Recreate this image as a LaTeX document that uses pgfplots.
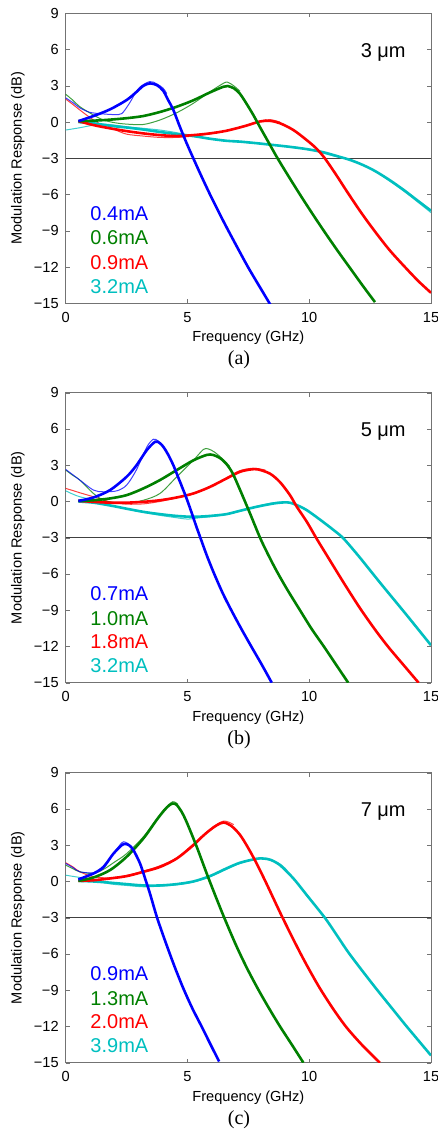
\documentclass[border=0pt]{standalone}
\usepackage{fontspec}
\setmainfont{Liberation Sans}
\newfontfamily\capfont{Liberation Serif}
\usepackage{pgfplots}
\pgfplotsset{compat=1.18}

\definecolor{cb}{rgb}{0,0,1}
\definecolor{cg}{rgb}{0,0.5,0}
\definecolor{cr}{rgb}{1,0,0}
\definecolor{cc}{rgb}{0,0.75,0.75}

\tikzset{lab/.style={anchor=west, inner sep=0, font=\fontsize{10}{12}\selectfont}}

\pgfplotsset{
  panel/.style={
    scale only axis, width=182.65pt, height=145pt, anchor=south west,
    xmin=0, xmax=15, ymin=-15, ymax=9,
    xtick={0,5,10,15}, xticklabels={0,5,10,15},
    ytick={-15,-12,-9,-6,-3,0,3,6,9},
    yticklabels={−15,−12,−9,−6,−3,0,3,6,9},
    tick align=inside, major tick length=2pt,
    axis line style={black!55}, tick style={black!55},
    tick label style={font=\fontsize{7.3}{8}\selectfont},
    label style={font=\fontsize{7.3}{8}\selectfont},
    xlabel={Frequency (GHz)}, ylabel={Modulation Response (dB)},
    xlabel style={at={(axis description cs:0.5,-0.12)}, anchor=center},
    ylabel style={at={(axis description cs:-0.131,0.5)}, anchor=center},
    xticklabel style={yshift=-1pt},
    clip=true,
  },
  fit/.style={line width=1.3pt, smooth},
  meas/.style={line width=0.5pt, smooth, opacity=0.75},
  cut/.style={black!75, line width=0.6pt},
}

\begin{document}
\begin{tikzpicture}
\useasboundingbox (0,0) rectangle (219pt,-565pt);

% ---------------- (a) 3 um
\begin{axis}[panel, at={(32.85pt,-151.65pt)}]
\addplot[cut] coordinates {(0,-3)(15,-3)};
\addplot[meas, cc] coordinates {(0,-0.66)(0.58,-0.47)(1.14,-0.25)(1.55,-0.17)(2.0,-0.25)(2.5,-0.39)(3.19,-0.52)(3.87,-0.66)(4.56,-0.88)(5.24,-1.16)(5.92,-1.4)(6.6,-1.57)(7.5,-1.71)(8.5,-1.88)(9.5,-2.1)(10.2,-2.35)(10.8,-2.7)(11.3,-2.95)(11.7,-3.1)(12.6,-3.95)(13.87,-5.7)(15,-7.5)};
\addplot[meas, cr] coordinates {(0,1.9)(0.3,1.45)(0.58,1.0)(1.14,0.17)(1.6,-0.35)(2.0,-0.62)(2.5,-1.0)(3.19,-1.16)(3.87,-1.27)(4.56,-1.27)(5.24,-1.16)(5.92,-0.98)(6.6,-0.72)(7.36,-0.3)(8.0,0.1)(8.4,0.2)(8.8,0.0)};
\addplot[meas, cg] coordinates {(0,2.3)(0.3,1.8)(0.58,1.27)(1.14,0.58)(1.55,0.17)(2.0,-0.05)(2.5,-0.17)(3.19,-0.2)(3.87,0.17)(4.56,0.77)(5.24,1.55)(5.92,2.5)(6.47,3.2)(6.65,3.3)(6.9,3.0)(7.16,2.55)};
\addplot[meas, cb] coordinates {(0,2.0)(0.3,1.6)(0.6,1.15)(1.0,0.8)(1.5,0.68)(2.0,0.62)(2.3,0.7)(2.6,1.5)(3.0,2.8)(3.45,3.35)(3.75,3.15)(4.0,2.8)(4.15,2.35)};
\addplot[fit, cc] coordinates {(0.52,0.0)(1.2,-0.12)(1.8,-0.3)(2.5,-0.45)(3.19,-0.62)(3.87,-0.82)(4.56,-1.0)(5.24,-1.16)(5.92,-1.38)(6.6,-1.55)(7.16,-1.62)(7.84,-1.75)(8.53,-1.9)(9.2,-2.05)(9.9,-2.24)(10.58,-2.5)(11.2,-2.85)(11.7,-3.15)(12.2,-3.55)(12.7,-4.05)(13.3,-4.8)(13.9,-5.65)(14.45,-6.5)(15,-7.34)};
\addplot[fit, cr] coordinates {(0.52,0.08)(1.14,-0.25)(1.82,-0.52)(2.5,-0.75)(3.19,-0.94)(3.87,-1.08)(4.56,-1.16)(5.24,-1.08)(5.92,-0.94)(6.6,-0.72)(7.36,-0.33)(7.98,0.05)(8.39,0.1)(8.8,-0.1)(9.35,-0.66)(9.9,-1.5)(10.3,-2.2)(10.64,-3.0)(11.1,-4.35)(11.55,-5.75)(12.1,-7.4)(12.64,-8.9)(13.3,-10.6)(14.0,-12.15)(14.5,-13.2)(15,-14.13)};
\addplot[fit, cg] coordinates {(0.52,0.08)(1.2,0.12)(1.82,0.2)(2.5,0.32)(3.19,0.5)(3.9,0.85)(4.56,1.27)(5.24,1.8)(5.92,2.45)(6.47,2.92)(6.65,2.98)(6.9,2.8)(7.15,2.35)(7.4,1.6)(7.7,0.6)(8.0,-0.5)(8.35,-1.75)(8.7,-3.0)(9.2,-4.65)(9.7,-6.25)(10.2,-7.8)(10.7,-9.3)(11.2,-10.75)(11.7,-12.15)(12.2,-13.55)(12.7,-14.9)};
\addplot[fit, cb] coordinates {(0.52,0.08)(1.14,0.5)(1.82,1.05)(2.5,1.82)(2.91,2.5)(3.19,3.0)(3.46,3.2)(3.75,3.05)(4.0,2.6)(4.2,1.85)(4.42,1.0)(4.69,-0.4)(4.97,-1.77)(5.24,-3.0)(5.6,-4.6)(6.0,-6.3)(6.5,-8.3)(7.0,-10.2)(7.5,-12.05)(8.0,-13.75)(8.4,-15.1)};
\node[lab] at (axis cs:12.1,5.8) {3 μm};
\node[lab, cb] at (axis cs:1.0,-7.56) {0.4mA};
\node[lab, cg] at (axis cs:1.0,-9.6) {0.6mA};
\node[lab, cr] at (axis cs:1.0,-11.6) {0.9mA};
\node[lab, cc] at (axis cs:1.0,-13.6) {3.2mA};
\end{axis}
\node[font=\capfont\fontsize{10}{12}\selectfont] at (119.5pt,-180pt) {(a)};

% ---------------- (b) 5 um
\begin{axis}[panel, at={(32.85pt,-341.35pt)}]
\addplot[cut] coordinates {(0,-3)(15,-3)};
\addplot[meas, cc] coordinates {(0,0.88)(0.3,0.6)(0.58,0.39)(1.14,0.1)(1.55,-0.22)(2.5,-0.6)(3.19,-0.9)(3.87,-1.15)(4.56,-1.35)(5.0,-1.46)(5.5,-1.35)(6.0,-1.25)(6.6,-1.08)(7.16,-0.8)(7.84,-0.4)(8.53,-0.1)(8.94,-0.05)(9.3,-0.12)};
\addplot[meas, cr] coordinates {(0,1.08)(0.3,0.9)(0.58,0.72)(1.14,0.39)(1.82,-0.03)(2.5,-0.22)(3.19,-0.2)(3.87,0.0)(4.56,0.3)(5.24,0.62)(5.92,1.2)(6.6,1.95)(7.15,2.55)(7.7,2.75)(8.2,2.6)};
\addplot[meas, cg] coordinates {(0,2.6)(0.3,2.15)(0.58,1.77)(1.14,0.66)(1.55,0.1)(2.0,-0.1)(2.5,-0.17)(3.19,0.1)(3.87,0.66)(4.56,2.04)(5.24,3.4)(5.65,4.3)(5.85,4.35)(6.1,4.1)(6.4,3.6)(6.74,2.9)};
\addplot[meas, cb] coordinates {(0,2.65)(0.3,2.2)(0.58,1.77)(1.14,0.94)(1.55,0.8)(2.1,0.88)(2.5,1.35)(2.9,2.6)(3.33,4.5)(3.6,5.15)(3.8,5.0)(4.01,4.55)};
\addplot[fit, cc] coordinates {(0.52,0.0)(1.14,-0.1)(1.82,-0.33)(2.5,-0.6)(3.19,-0.86)(3.87,-1.05)(4.56,-1.2)(5.24,-1.27)(5.92,-1.2)(6.6,-1.05)(7.16,-0.77)(7.84,-0.44)(8.53,-0.17)(8.94,-0.08)(9.2,-0.1)(9.49,-0.3)(9.9,-0.72)(10.44,-1.5)(10.99,-2.35)(11.4,-3.05)(12.0,-4.45)(12.5,-5.7)(13.0,-6.95)(14.0,-9.4)(15.0,-11.9)};
\addplot[fit, cr] coordinates {(0.52,0.05)(1.14,-0.03)(1.82,-0.1)(2.5,-0.1)(3.19,-0.03)(3.87,0.1)(4.56,0.33)(5.24,0.66)(5.92,1.2)(6.6,1.9)(7.15,2.45)(7.6,2.65)(7.9,2.65)(8.39,2.3)(8.8,1.6)(9.21,0.52)(9.49,-0.44)(9.9,-1.68)(10.28,-3.0)(10.72,-4.45)(11.1,-5.7)(11.5,-7.0)(12.09,-8.85)(12.7,-10.6)(13.25,-12.05)(13.9,-13.6)(14.49,-15)};
\addplot[fit, cg] coordinates {(0.52,0.05)(1.14,0.1)(1.82,0.25)(2.5,0.52)(3.19,1.08)(3.87,1.77)(4.56,2.6)(5.24,3.4)(5.79,3.85)(6.05,3.85)(6.33,3.6)(6.6,3.1)(6.85,2.35)(7.15,1.0)(7.57,-1.0)(7.98,-3.0)(8.3,-4.35)(8.66,-5.75)(9.1,-7.3)(9.62,-9.0)(10.1,-10.55)(10.6,-12.0)(11.1,-13.5)(11.6,-15)};
\addplot[fit, cb] coordinates {(0.52,0.05)(1.14,0.33)(1.82,0.94)(2.5,2.04)(2.91,3.0)(3.33,4.25)(3.67,4.94)(3.85,4.85)(4.01,4.52)(4.2,3.9)(4.42,3.0)(4.62,2.0)(4.83,0.94)(5.0,0.05)(5.2,-1.1)(5.36,-2.05)(5.53,-3.0)(5.8,-4.5)(6.1,-6.0)(6.45,-7.6)(6.8,-9.0)(7.2,-10.5)(7.62,-12.0)(8.05,-13.5)(8.46,-15)};
\node[lab] at (axis cs:12.1,5.8) {5 μm};
\node[lab, cb] at (axis cs:1.0,-7.6) {0.7mA};
\node[lab, cg] at (axis cs:1.0,-9.7) {1.0mA};
\node[lab, cr] at (axis cs:1.0,-11.6) {1.8mA};
\node[lab, cc] at (axis cs:1.0,-13.6) {3.2mA};
\end{axis}
\node[font=\capfont\fontsize{10}{12}\selectfont] at (119.5pt,-370pt) {(b)};

% ---------------- (c) 7 um
\begin{axis}[panel, at={(32.85pt,-531.35pt)}]
\addplot[cut] coordinates {(0,-3)(15,-3)};
\addplot[meas, cc] coordinates {(0,0.52)(0.3,0.42)(0.58,0.33)(1.14,0.1)(1.82,-0.2)(2.5,-0.33)(3.19,-0.44)(3.87,-0.39)(4.56,-0.28)(5.24,-0.05)(5.92,0.4)(6.6,1.0)(7.16,1.5)(7.84,1.85)(8.3,1.85)(8.8,1.45)(9.1,0.9)};
\addplot[meas, cr] coordinates {(0,1.55)(0.3,1.2)(0.58,0.8)(1.14,0.39)(1.82,0.3)(2.5,0.5)(3.19,0.85)(3.87,1.3)(4.56,1.95)(5.24,3.1)(5.92,4.3)(6.48,5.0)(6.9,4.7)};
\addplot[meas, cg] coordinates {(0,1.35)(0.3,1.05)(0.58,0.8)(1.14,0.66)(1.55,1.0)(2.0,1.6)(2.5,2.3)(3.19,3.7)(3.73,5.15)(4.1,6.1)(4.4,6.6)(4.6,6.4)};
\addplot[meas, cb] coordinates {(0,1.49)(0.3,1.15)(0.58,0.8)(1.14,0.72)(1.55,1.08)(1.96,2.3)(2.3,3.2)(2.45,3.25)(2.65,3.0)(2.8,2.6)};
\addplot[fit, cc] coordinates {(0.52,0.05)(1.14,0.0)(1.82,-0.1)(2.5,-0.22)(3.19,-0.33)(3.87,-0.33)(4.56,-0.22)(5.24,0.0)(5.92,0.44)(6.6,1.08)(7.16,1.55)(7.84,1.88)(8.1,1.9)(8.4,1.8)(8.8,1.35)(9.35,0.25)(9.9,-1.13)(10.64,-3.0)(11.1,-4.35)(11.6,-5.85)(12.2,-7.45)(12.78,-8.95)(13.4,-10.5)(13.94,-11.85)(14.5,-13.2)(15,-14.4)};
\addplot[fit, cr] coordinates {(0.52,0.05)(1.14,0.1)(1.82,0.25)(2.5,0.44)(3.19,0.8)(3.87,1.2)(4.56,1.9)(5.24,3.0)(5.6,3.7)(5.92,4.25)(6.2,4.65)(6.48,4.88)(6.8,4.6)(7.16,3.85)(7.5,2.75)(7.85,1.45)(8.25,-0.2)(8.87,-2.85)(9.55,-5.6)(10.0,-7.3)(10.44,-8.85)(11.0,-10.6)(11.54,-12.1)(12.2,-13.6)(12.9,-15)};
\addplot[fit, cg] coordinates {(0.52,0.05)(1.14,0.33)(1.82,0.94)(2.5,2.04)(3.19,3.56)(3.73,5.08)(4.05,5.9)(4.25,6.3)(4.4,6.45)(4.55,6.35)(4.75,5.8)(4.97,4.9)(5.38,2.87)(5.79,0.66)(6.15,-1.2)(6.5,-2.95)(7.0,-5.3)(7.45,-7.2)(7.91,-8.95)(8.35,-10.5)(8.8,-12.0)(9.3,-13.55)(9.76,-15)};
\addplot[fit, cb] coordinates {(0.52,0.17)(1.14,0.66)(1.55,1.2)(1.96,2.3)(2.3,3.0)(2.45,3.1)(2.6,3.0)(2.78,2.6)(3.05,1.5)(3.26,0.25)(3.46,-1.0)(3.74,-2.92)(4.0,-4.45)(4.25,-5.85)(4.5,-7.2)(4.83,-8.85)(5.2,-10.5)(5.58,-12.0)(5.95,-13.5)(6.3,-14.9)};
\node[lab] at (axis cs:12.1,5.8) {7 μm};
\node[lab, cb] at (axis cs:1.0,-7.6) {0.9mA};
\node[lab, cg] at (axis cs:1.0,-9.7) {1.3mA};
\node[lab, cr] at (axis cs:1.0,-11.6) {2.0mA};
\node[lab, cc] at (axis cs:1.0,-13.6) {3.9mA};
\end{axis}
\node[font=\capfont\fontsize{10}{12}\selectfont] at (119.5pt,-560pt) {(c)};
\end{tikzpicture}
\end{document}
